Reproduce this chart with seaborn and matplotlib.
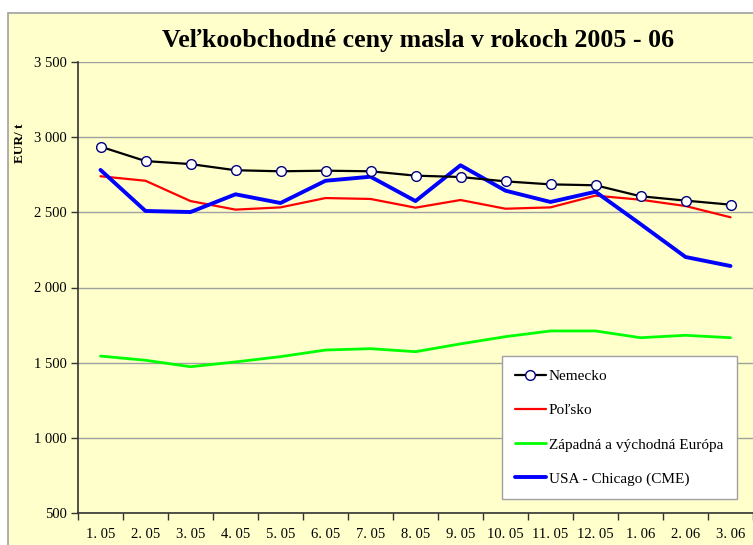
import matplotlib.pyplot as plt
import matplotlib.patches as patches
import numpy as np
import pandas as pd
import seaborn as sns

months = ["1. 05", "2. 05", "3. 05", "4. 05", "5. 05", "6. 05", "7. 05", "8. 05",
          "9. 05", "10. 05", "11. 05", "12. 05", "1. 06", "2. 06", "3. 06"]

nemecko = [2937, 2841, 2821, 2780, 2773, 2777, 2773, 2744, 2735, 2706, 2686, 2680, 2607, 2578, 2551]
polsko = [2740, 2710, 2575, 2518, 2533, 2595, 2589, 2531, 2582, 2524, 2533, 2611, 2584, 2542, 2467]
europa = [1544, 1516, 1473, 1505, 1540, 1584, 1593, 1573, 1625, 1673, 1711, 1711, 1666, 1682, 1666]
usa = [2782, 2509, 2502, 2620, 2562, 2710, 2737, 2575, 2813, 2644, 2569, 2637, 2422, 2203, 2143]

series_names = ["Nemecko", "Poľsko", "Západná a východná Európa", "USA - Chicago (CME)"]

df = pd.DataFrame({"mesiac": months, series_names[0]: nemecko, series_names[1]: polsko,
                   series_names[2]: europa, series_names[3]: usa})

bg = "#FFFFCC"
sns.set_style("white")
plt.rcParams["font.family"] = ["Liberation Serif", "DejaVu Serif"]
plt.rcParams["text.color"] = "black"
plt.rcParams["xtick.color"] = "black"
plt.rcParams["ytick.color"] = "black"
plt.rcParams["axes.labelcolor"] = "black"

fig = plt.figure(figsize=(7.53, 5.45), dpi=100)
fig.patch.set_facecolor("white")
# chart area (yellow box with gray border)
chart_area = patches.Rectangle((8 / 753, -0.05), 1.2, 1 - 13 / 545 + 0.05,
                               transform=fig.transFigure, facecolor=bg,
                               edgecolor="#A0A0A0", linewidth=1.2, zorder=-10)
fig.add_artist(chart_area)

ax = fig.add_axes([78 / 753, 1 - 513 / 545, 675 / 753, (513 - 62) / 545])
ax.set_facecolor(bg)

sns.lineplot(data=df, x="mesiac", y=series_names[0], ax=ax, color="black", linewidth=1.6,
             marker="o", markersize=7, markerfacecolor="white", markeredgecolor="#000080",
             markeredgewidth=1.0, sort=False, label=series_names[0], zorder=5)
sns.lineplot(data=df, x="mesiac", y=series_names[1], ax=ax, color="#FF0000", linewidth=1.6,
             sort=False, label=series_names[1], zorder=3)
sns.lineplot(data=df, x="mesiac", y=series_names[2], ax=ax, color="#00FF00", linewidth=2.0,
             sort=False, label=series_names[2], zorder=3)
sns.lineplot(data=df, x="mesiac", y=series_names[3], ax=ax, color="#0000FF", linewidth=2.8,
             sort=False, label=series_names[3], zorder=4)

ax.set_xlim(-0.5, 14.5)
ax.set_ylim(500, 3500)
ax.set_yticks(np.arange(500, 3501, 500))
ax.set_yticklabels([f"{v:,}".replace(",", " ") for v in range(500, 3501, 500)], fontsize=10.5)
ax.set_xticks(range(len(months)))
ax.set_xticklabels(months, fontsize=10.5)
ax.set_xticks(np.arange(-0.5, 15, 1), minor=True)
ax.tick_params(axis="x", which="major", length=0, pad=11)
ax.tick_params(axis="x", which="minor", length=5, width=1, color="#333333", direction="out",
               bottom=True)
ax.tick_params(axis="y", length=5, width=1, color="#333333", direction="out", pad=3, left=True)
ax.yaxis.grid(True, color="#A0A0A0", linewidth=1)
ax.set_axisbelow(True)

for side in ["top", "right"]:
    ax.spines[side].set_visible(False)
for side in ["left", "bottom"]:
    ax.spines[side].set_color("#333333")
    ax.spines[side].set_linewidth(1.2)

ax.set_xlabel("")
ax.set_ylabel("EUR/ t", fontsize=9.5, fontweight="bold")
ax.yaxis.set_label_coords(-52 / 675, (513 - 143) / 451)

fig.text(0.555, 1 - 40 / 545, "Veľkoobchodné ceny masla v rokoch 2005 - 06",
         fontsize=18.6, fontweight="bold", ha="center", va="center")

leg = ax.legend(loc="lower left", bbox_to_anchor=((502 - 78) / 675, (513 - 499) / 451,
                                                   (737 - 502) / 675, (499 - 357) / 451),
                mode="expand", frameon=True, fancybox=False, fontsize=11, handlelength=2.0,
                handletextpad=0.2, labelspacing=1.35, borderpad=0.85, borderaxespad=0)
leg.get_frame().set_edgecolor("#A0A0A0")
leg.get_frame().set_linewidth(1)
leg.get_frame().set_facecolor("white")
leg.get_frame().set_alpha(1)

plt.savefig("out.png", dpi=100)
